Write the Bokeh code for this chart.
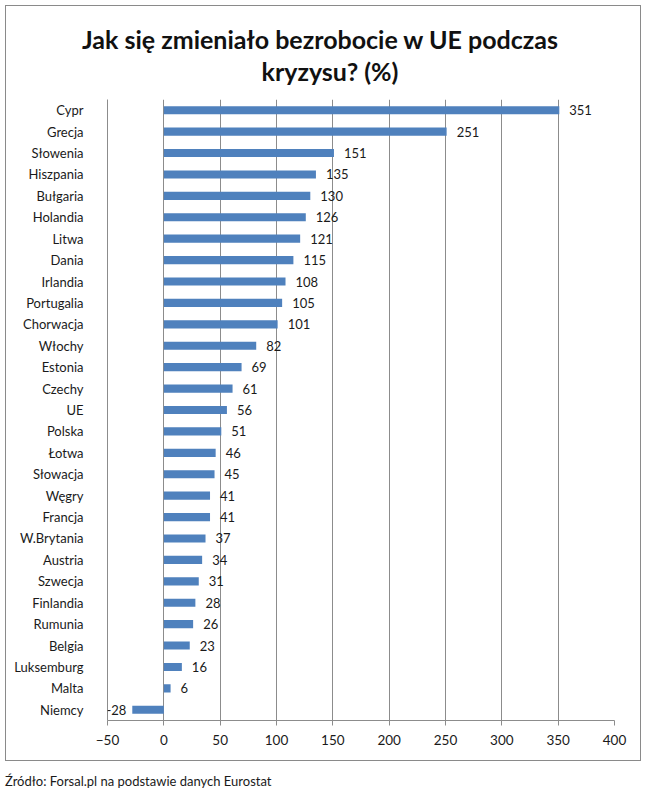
from bokeh.plotting import figure
from bokeh.models import ColumnDataSource, FactorRange, FixedTicker, LabelSet, Range1d, Div
from bokeh.core.properties import value
from bokeh.layouts import column
from bokeh.embed import file_html
from bokeh.resources import INLINE

countries = ["Cypr", "Grecja", "Słowenia", "Hiszpania", "Bułgaria", "Holandia", "Litwa",
             "Dania", "Irlandia", "Portugalia", "Chorwacja", "Włochy", "Estonia", "Czechy",
             "UE", "Polska", "Łotwa", "Słowacja", "Węgry", "Francja", "W.Brytania", "Austria",
             "Szwecja", "Finlandia", "Rumunia", "Belgia", "Luksemburg", "Malta", "Niemcy"]
values = [351, 251, 151, 135, 130, 126, 121, 115, 108, 105, 101, 82, 69, 61, 56, 51, 46, 45,
          41, 41, 37, 34, 31, 28, 26, 23, 16, 6, -28]
x_ticks = [-50, 0, 50, 100, 150, 200, 250, 300, 350, 400]
title_line1 = "Jak się zmieniało bezrobocie w UE podczas"
title_line2 = "kryzysu? (%)"
source_note = "Źródło: Forsal.pl na podstawie danych Eurostat"

FONT = "Lato"
BAR = "#4F81BD"
GRID = "#8c8c8c"
TXT = "#1a1a1a"
BORDER = "1px solid #8a8a8a"

src = ColumnDataSource(dict(country=countries, value=values))
pos = ColumnDataSource(dict(country=[c for c, v in zip(countries, values) if v >= 0],
                            value=[v for v in values if v >= 0],
                            label=[str(v) for v in values if v >= 0]))
neg = ColumnDataSource(dict(country=[c for c, v in zip(countries, values) if v < 0],
                            value=[v for v in values if v < 0],
                            label=[str(v) for v in values if v < 0]))

title_html = (
    '<div style="font-family:Lato; font-weight:bold; font-size:25px; line-height:32px; '
    'color:#111111; text-align:center; padding-top:17px; width:634px;">'
    f'<div style="padding-right:6px;">{title_line1}</div>'
    f'<div style="padding-left:14px;">{title_line2}</div></div>'
)
title_div = Div(text=title_html, width=636, height=94, margin=0,
                styles={"border-top": BORDER, "border-left": BORDER, "border-right": BORDER})

p = figure(width=636, height=662,
           y_range=FactorRange(factors=list(reversed(countries))),
           x_range=Range1d(x_ticks[0], x_ticks[-1]),
           output_backend="svg", toolbar_location=None, title=None,
           min_border_left=101, min_border_right=28, min_border_top=0, min_border_bottom=41)

p.hbar(y="country", left=0, right="value", height=0.38, source=src,
       fill_color=BAR, line_color=None)

p.add_layout(LabelSet(x="value", y="country", text="label", source=pos, x_offset=10,
                      text_align="left", text_baseline="middle", text_font=value(FONT),
                      text_font_size="13px", text_color=TXT))
p.add_layout(LabelSet(x="value", y="country", text="label", source=neg, x_offset=-6,
                      text_align="right", text_baseline="middle", text_font=value(FONT),
                      text_font_size="13px", text_color=TXT))

p.xaxis.ticker = FixedTicker(ticks=x_ticks)
p.xgrid.ticker = FixedTicker(ticks=x_ticks[1:])
p.xgrid.grid_line_color = GRID
p.ygrid.grid_line_color = None
p.xaxis.axis_line_color = GRID
p.xaxis.major_tick_line_color = GRID
p.xaxis.major_tick_out = 5
p.xaxis.major_tick_in = 0
p.xaxis.minor_tick_line_color = None
p.xaxis.major_label_text_font = FONT
p.xaxis.major_label_text_font_size = "13.5px"
p.xaxis.major_label_text_color = TXT
p.xaxis.major_label_standoff = 9

p.yaxis.axis_line_color = GRID
p.yaxis.major_tick_line_color = None
p.yaxis.minor_tick_line_color = None
p.yaxis.major_label_text_font = FONT
p.yaxis.major_label_text_font_size = "13px"
p.yaxis.major_label_text_color = TXT
p.yaxis.major_label_standoff = 18

p.outline_line_color = None
p.styles = {"border-left": BORDER, "border-right": BORDER, "border-bottom": BORDER}

footer_html = (
    f'<div style="font-family:Lato; font-size:13px; line-height:16px; color:{TXT}; '
    f'padding-top:12px;">{source_note}</div>'
)
footer = Div(text=footer_html, width=636, height=26, margin=0)

layout = column(title_div, p, footer, margin=(5, 0, 0, 5), spacing=0)
open("out.html", "w").write(file_html(layout, INLINE))
